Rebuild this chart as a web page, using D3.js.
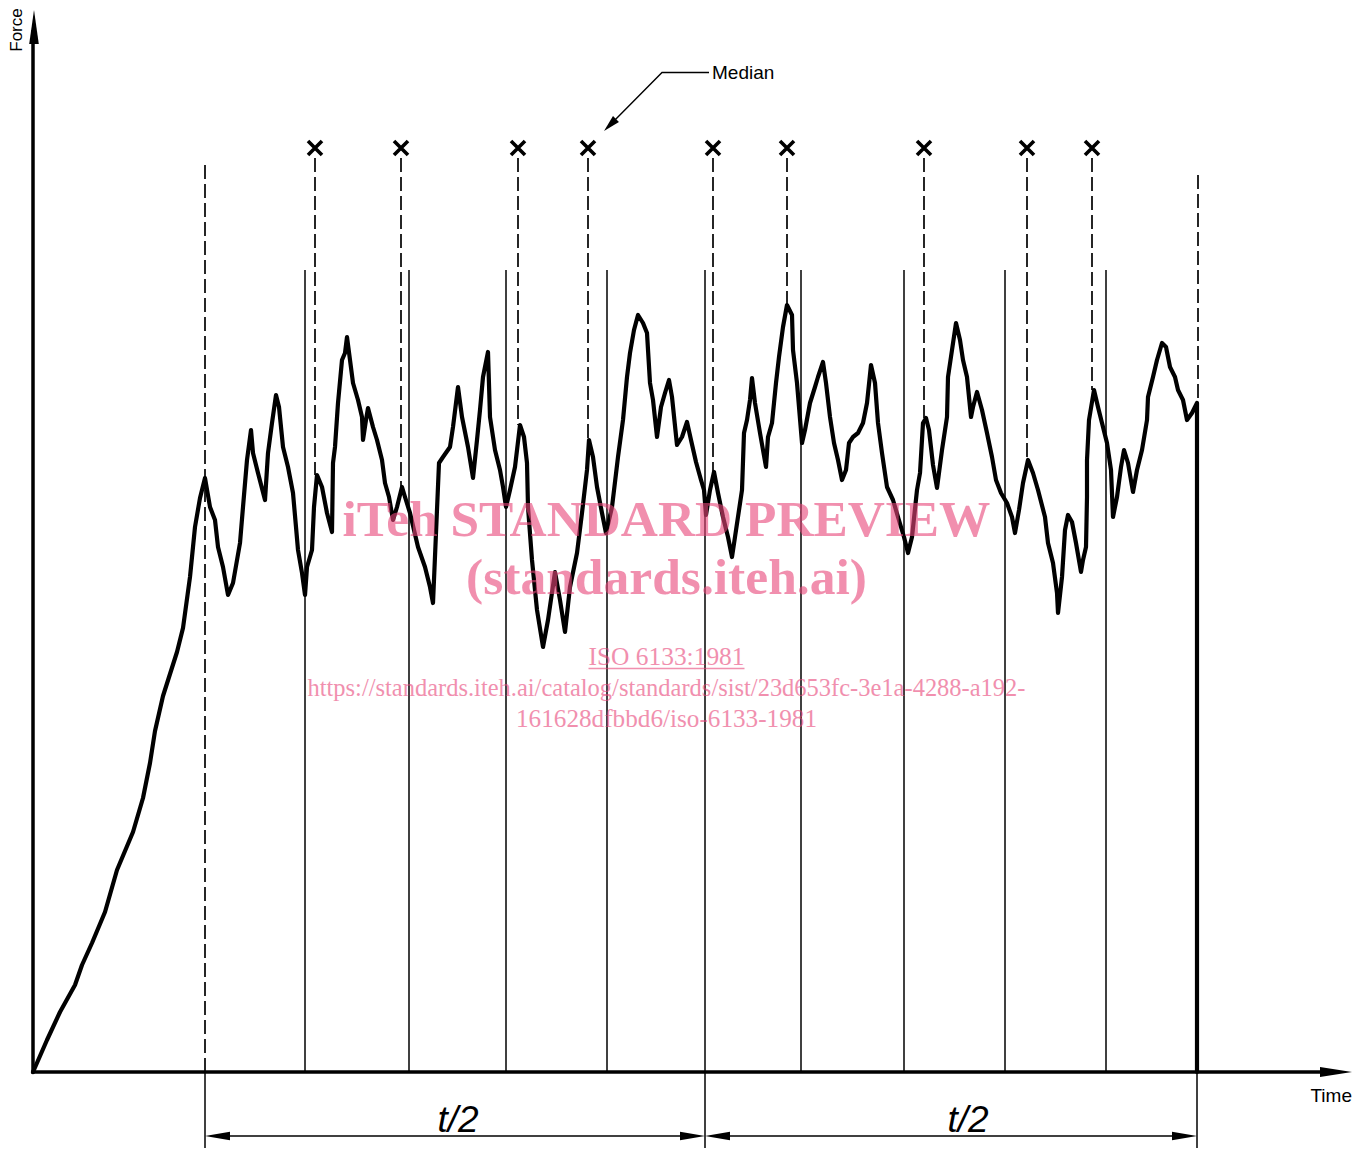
<!DOCTYPE html>
<html><head><meta charset="utf-8">
<script src="https://cdn.jsdelivr.net/npm/d3@7"></script>
<style>body{margin:0;background:#fff} svg{display:block}</style>
</head><body>
<svg id="chart" width="1368" height="1150"></svg>
<script>
// ---- data (time and force in drawing units) ----
const curveTime = [0,14,27,42,49,59,72,84,100,110,117,122,130,144,150,157,162,167,172,
177,182,185,190,195,200,207,210,214,218,220,225,232,235,239,243,246,250,255,260,263,265,269,272,274,279,281,284,289,294,299,300,302,305,309,312,314,317,320,325,329,330,333,335,340,344,349,352,356,360,364,369,372,377,385,392,397,400,403,406,410,417,
420,425,429,435,440,444,447,450,455,457,462,467,470,473,477,482,487,491,494,495,499,504,510,515,522,527,532,537,544,549,554,556,560,564,569,573,579,585,590,594,597,601,605,610,614,617,620,624,628,632,636,639,644,649,654,658,663,668,671,673,677,681,
685,690,695,699,702,709,711,714,717,719,722,727,733,735,739,743,746,750,754,759,760,764,769,772,777,782,785,790,793,797,801,805,809,813,816,820,825,830,834,838,842,845,849,854,860,865,871,875,879,884,887,890,893,896,900,904,909,914,915,919,923,927,930,934,938,940,944,949,954,959,963,968,974,979,982,986,990,995,1000,1005,1012,1015,1020,1024,1025,1029,1032,1035,1039,1043,1048,1050,1053,1054,1054,1056,1061,1065,1069,1074,1078,1080,1084,1088,1091,1095,1100,1104,1109,1114,1115,1120,1124,1129,1133,1137,1142,1145,1150,1154,1159,1164,1164];
const curveForce = [0,32,60,87,107,129,160,202,240,274,309,341,376,420,444,495,545,574,594,
565,552,525,505,477,489,529,565,612,642,619,599,572,619,649,677,665,625,605,579,545,522,499,477,505,522,565,597,585,559,540,609,625,669,712,719,735,712,689,672,655,632,652,664,645,632,612,589,575,552,565,585,575,559,525,505,485,469,539,609,615,625,
645,685,655,625,594,632,662,695,720,655,622,602,585,565,582,605,647,635,609,565,512,462,425,452,500,472,440,485,519,559,602,632,615,585,559,539,565,615,652,695,719,742,757,749,739,689,672,635,665,679,692,675,627,635,650,632,610,592,582,557,582,600,
579,555,535,515,535,582,639,652,672,694,669,639,605,635,649,689,715,745,767,757,722,689,629,642,669,685,695,710,689,655,629,612,592,602,629,635,639,649,669,707,689,649,619,585,572,555,535,519,535,582,599,649,654,642,607,584,622,655,695,722,749,732,712,695,655,665,680,662,639,615,592,579,569,555,539,562,589,612,599,582,555,529,509,479,459,495,542,557,550,529,500,512,525,575,612,652,682,665,649,629,602,555,575,605,622,609,580,602,622,652,675,695,712,729,725,705,695,682,672,652,659,669,0];
const intervalTimes = [272,376,473,574,672,768,871,972,1073];   // thin solid dividers
const intervalTop = 802;
const medianTimes = [282,368,485,555,680,754,891,994,1059];     // median peaks, marked with ×
const markerForce = 924;
const startTime = 172, startTop = 907;     // start of evaluation (dashed)
const endTime = 1164, endTop = 897;        // end of evaluation (dashed)
const halfBounds = [172, 672, 1164];
const halfLabels = ["t/2", "t/2"];
const axisTitles = ["Force", "Time"];
const calloutText = "Median";
const watermarkLines = ["iTeh STANDARD PREVIEW", "(standards.iteh.ai)", "ISO 6133:1981",
  "https://standards.iteh.ai/catalog/standards/sist/23d653fc-3e1a-4288-a192-",
  "161628dfbbd6/iso-6133-1981"];

// ---- scales ----
const x = d3.scaleLinear().domain([0, 1319]).range([33, 1352]);
const y = d3.scaleLinear().domain([0, 1062]).range([1072, 10]);
const svg = d3.select("#chart");
const pts = curveTime.map((t, i) => [t, curveForce[i]]);

function arrowHead(g, tip, from, len, hw) {
  const dx = tip[0] - from[0], dy = tip[1] - from[1];
  const L = Math.hypot(dx, dy), ux = dx / L, uy = dy / L;
  const bx = tip[0] - ux * len, by = tip[1] - uy * len;
  g.append("path")
    .attr("d", `M${tip[0]},${tip[1]}L${bx - uy * hw},${by + ux * hw}L${bx + uy * hw},${by - ux * hw}Z`)
    .attr("fill", "#000");
}
function peakNear(t) {
  let best = -Infinity;
  pts.forEach(p => { if (Math.abs(p[0] - t) <= 4 && p[1] > best) best = p[1]; });
  return best;
}

// thin solid dividers
svg.append("g").selectAll("line").data(intervalTimes).join("line")
  .attr("x1", d => x(d)).attr("x2", d => x(d))
  .attr("y1", y(intervalTop)).attr("y2", y(0))
  .attr("stroke", "#000").attr("stroke-width", 1.5);

// dashed start / end lines
const dash = "14,5";
svg.append("line").attr("x1", x(startTime)).attr("x2", x(startTime))
  .attr("y1", y(startTop)).attr("y2", y(0))
  .attr("stroke", "#000").attr("stroke-width", 1.7).attr("stroke-dasharray", dash);
svg.append("line").attr("x1", x(endTime) + 1).attr("x2", x(endTime) + 1)
  .attr("y1", y(endTop)).attr("y2", y(curveForce[curveForce.length - 2]))
  .attr("stroke", "#000").attr("stroke-width", 1.7).attr("stroke-dasharray", dash);

// median dashed lines
svg.append("g").selectAll("line").data(medianTimes).join("line")
  .attr("x1", d => x(d)).attr("x2", d => x(d))
  .attr("y1", y(markerForce) + 10).attr("y2", d => y(peakNear(d)))
  .attr("stroke", "#000").attr("stroke-width", 1.7).attr("stroke-dasharray", dash);

// × markers
const mk = svg.append("g");
medianTimes.forEach(t => {
  const cx = x(t), cy = y(markerForce), s = 7;
  mk.append("path").attr("d", `M${cx - s},${cy - s}L${cx + s},${cy + s}M${cx - s},${cy + s}L${cx + s},${cy - s}`)
    .attr("stroke", "#000").attr("stroke-width", 3.6).attr("fill", "none");
});

// force curve
svg.append("path").datum(pts)
  .attr("d", d3.line().x(d => x(d[0])).y(d => y(d[1])))
  .attr("fill", "none").attr("stroke", "#000").attr("stroke-width", 4.2)
  .attr("stroke-linejoin", "round").attr("stroke-linecap", "round");

// axes
const ax = svg.append("g");
ax.append("line").attr("x1", x(0)).attr("x2", x(0)).attr("y1", y(0) + 1.5).attr("y2", y(1062) + 20)
  .attr("stroke", "#000").attr("stroke-width", 3.5);
arrowHead(ax, [x(0) + 1, y(1062)], [x(0) + 1, y(0)], 34, 4.8);
ax.append("line").attr("x1", x(0) - 1.5).attr("x2", x(1319) - 20).attr("y1", y(0)).attr("y2", y(0))
  .attr("stroke", "#000").attr("stroke-width", 3.5);
arrowHead(ax, [x(1319), y(0)], [x(0), y(0)], 32, 5);

ax.append("text").attr("transform", `translate(${x(0) - 11},${y(1062) + 20}) rotate(-90)`)
  .attr("text-anchor", "middle").attr("font-family", "Liberation Sans, Arial, sans-serif")
  .attr("font-size", 17).text(axisTitles[0]);
ax.append("text").attr("x", x(1319)).attr("y", y(0) + 30).attr("text-anchor", "end")
  .attr("font-family", "Liberation Sans, Arial, sans-serif").attr("font-size", 19).text(axisTitles[1]);

// median callout
const co = svg.append("g");
co.append("text").attr("x", 712).attr("y", 79).attr("font-family", "Liberation Sans, Arial, sans-serif")
  .attr("font-size", 19).text(calloutText);
co.append("path").attr("d", "M709,72.5L662,72.5L610,125").attr("fill", "none")
  .attr("stroke", "#000").attr("stroke-width", 1.4);
arrowHead(co, [604, 131], [662, 72.5], 17, 4.2);

// t/2 dimensioning
const dimY = y(-64), extBottom = y(-76);
const dm = svg.append("g");
halfBounds.forEach(t => {
  dm.append("line").attr("x1", x(t)).attr("x2", x(t)).attr("y1", y(0)).attr("y2", extBottom)
    .attr("stroke", "#000").attr("stroke-width", 1.5);
});
halfLabels.forEach((lab, i) => {
  const a = x(halfBounds[i]), b = x(halfBounds[i + 1]);
  dm.append("line").attr("x1", a + 10).attr("x2", b - 10).attr("y1", dimY).attr("y2", dimY)
    .attr("stroke", "#000").attr("stroke-width", 1.5);
  arrowHead(dm, [a, dimY], [b, dimY], 25, 4.2);
  arrowHead(dm, [b, dimY], [a, dimY], 25, 4.2);
  dm.append("text").attr("x", i === 0 ? (a + b) / 2 + 3 : (a + b) / 2 + 17).attr("y", dimY - 4)
    .attr("text-anchor", "middle").attr("font-family", "Liberation Sans, Arial, sans-serif")
    .attr("font-style", "italic").attr("font-size", 37).text(lab);
});

// watermark
const wm = svg.append("g").attr("fill", "#e8467a").attr("opacity", 0.6)
  .attr("font-family", "Liberation Serif, Times New Roman, serif").attr("text-anchor", "middle");
const wmSpec = [
  {size: 50, bold: true, base: 536, w: 648},
  {size: 50, bold: true, base: 594, w: 401},
  {size: 25, bold: false, base: 665, w: 156},
  {size: 25, bold: false, base: 696, w: 718},
  {size: 25, bold: false, base: 727, w: 301}
];
watermarkLines.forEach((s, i) => {
  const sp = wmSpec[i];
  wm.append("text").attr("x", 666.5).attr("y", sp.base).attr("font-size", sp.size)
    .attr("font-weight", sp.bold ? "bold" : "normal")
    .attr("textLength", sp.w).attr("lengthAdjust", "spacingAndGlyphs").text(s);
});
wm.append("line").attr("x1", 666.5 - 78).attr("x2", 666.5 + 78).attr("y1", 668.5).attr("y2", 668.5)
  .attr("stroke", "#e8467a").attr("stroke-width", 1.3);
</script>
</body></html>
